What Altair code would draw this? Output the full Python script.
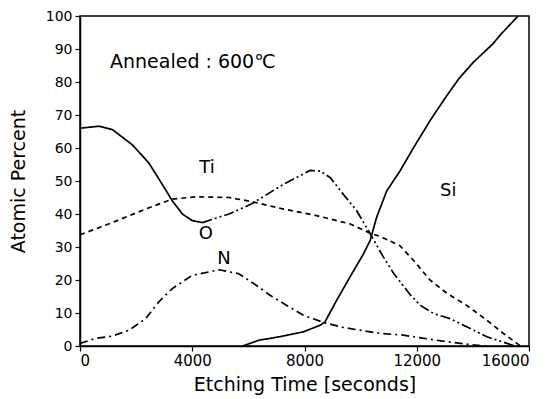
import altair as alt
import pandas as pd

# ---- data ----
ti_t = [0, 1150, 2340, 3290, 4120, 5310, 6100, 7250, 8430, 9620, 10340, 10700, 11400, 11880, 12470, 13070, 13780, 14500, 15090, 15570, 15700]
ti_v = [33.7, 37.4, 41.5, 44.5, 45.2, 45.0, 43.8, 41.5, 39.5, 37.0, 34.2, 33.2, 30.4, 26.0, 20.0, 16.0, 12.3, 7.8, 3.8, 0.8, 0.0]

o_t = [0, 680, 1150, 1860, 2450, 2930, 3290, 3650, 4000, 4360, 4720, 5310, 6100, 7250, 8200, 8560, 8920, 9380, 9860, 10340, 10810, 11180, 11780, 12130, 12610, 13190, 13780, 14500, 15210, 15500]
o_v = [66.0, 66.6, 65.6, 61.0, 55.5, 49.0, 44.0, 40.0, 38.0, 37.4, 38.4, 40.0, 43.0, 49.0, 53.2, 53.0, 51.0, 46.0, 41.0, 34.0, 27.0, 22.0, 15.4, 12.3, 9.8, 8.3, 5.8, 2.8, 0.8, 0.0]
o_solid_until = 4360

n_t = [0, 560, 1150, 1750, 2340, 2810, 3290, 4000, 4950, 5660, 6370, 6770, 7370, 7960, 8730, 9390, 10340, 10710, 11520, 11880, 13070, 14270, 14500]
n_v = [0.8, 2.3, 3.0, 4.8, 8.3, 13.4, 17.4, 21.4, 23.1, 21.9, 17.9, 15.4, 12.3, 9.3, 7.0, 5.6, 4.3, 3.8, 3.3, 2.8, 1.3, 0.1, 0.0]

si_t = [5800, 6390, 6770, 7110, 7960, 8560, 8730, 9150, 9620, 10100, 10340, 10570, 10930, 11400, 11880, 12490, 13000, 13500, 14020, 14730, 14970, 15610]
si_v = [0.0, 1.8, 2.3, 2.8, 4.3, 6.3, 7.3, 13.9, 20.9, 27.9, 32.0, 39.0, 47.0, 53.0, 60.0, 68.5, 75.0, 81.0, 86.0, 91.7, 94.2, 100.0]

label_text = ["Ti", "O", "N", "Si"]
label_t = [4526, 4480, 5130, 13125]
label_v = [54.0, 34.0, 26.4, 47.0]

note_text = ["Annealed : 600\u2103"]
note_t = [1069]
note_v = [86.0]

x_ticks = [0, 4000, 8000, 12000, 16000]
y_ticks = [0, 10, 20, 30, 40, 50, 60, 70, 80, 90, 100]

# ---- build table ----
rows = []
for t, v in zip(ti_t, ti_v):
    rows.append({"t": t, "v": v, "seg": "Ti", "style": "dashed"})
for t, v in zip(o_t, o_v):
    if t <= o_solid_until:
        rows.append({"t": t, "v": v, "seg": "O1", "style": "solid"})
    if t >= o_solid_until:
        rows.append({"t": t, "v": v, "seg": "O2", "style": "dashdotdot"})
for t, v in zip(n_t, n_v):
    rows.append({"t": t, "v": v, "seg": "N", "style": "dashdot"})
for t, v in zip(si_t, si_v):
    rows.append({"t": t, "v": v, "seg": "Si", "style": "solid"})
df = pd.DataFrame(rows)

labels = pd.DataFrame({"t": label_t, "v": label_v, "text": label_text})
note = pd.DataFrame({"t": note_t, "v": note_v, "text": note_text})

FONT = "DejaVu Sans"

x_scale = alt.Scale(domain=[0, 16000], nice=False, zero=False)
y_scale = alt.Scale(domain=[0, 100], nice=False)

x_axis = alt.Axis(values=x_ticks, format="d", title="Etching Time [seconds]",
                  grid=False, labelOverlap=False, labelFont=FONT, labelFontSize=15,
                  labelColor="black", tickColor="black", domainColor="black",
                  domainWidth=1.5, tickWidth=1.2, tickSize=5, labelPadding=2,
                  titleFont=FONT, titleFontSize=19, titleFontWeight="normal",
                  titleColor="black", titleY=38, titleBaseline="middle")
y_axis = alt.Axis(values=y_ticks, format="d", title="Atomic Percent",
                  grid=False, labelOverlap=False, labelFont=FONT, labelFontSize=14,
                  labelColor="black", tickColor="black", domainColor="black",
                  domainWidth=1.5, tickWidth=1.2, tickSize=5, labelPadding=3,
                  titleFont=FONT, titleFontSize=19, titleFontWeight="normal",
                  titleColor="black", titleX=-62, titleY=165, titleAngle=270,
                  titleAlign="center", titleBaseline="middle")

X = alt.X("t:Q", scale=x_scale, axis=x_axis)
Y = alt.Y("v:Q", scale=y_scale, axis=y_axis)

lines = alt.Chart(df).mark_line(strokeWidth=1.7, color="black").encode(
    x=X, y=Y,
    detail="seg:N",
    strokeDash=alt.StrokeDash("style:N", scale=alt.Scale(
        domain=["solid", "dashed", "dashdot", "dashdotdot"],
        range=[[1, 0], [5, 4], [8, 4, 2, 4], [10, 3, 2, 3, 2, 3]]), legend=None),
    order="t:Q",
)

text_labels = alt.Chart(labels).mark_text(font=FONT, fontSize=18, color="black").encode(
    x=X, y=Y, text="text:N")

note_mark = alt.Chart(note).mark_text(font=FONT, fontSize=19, color="black", align="left",
                                      baseline="middle").encode(
    x=X, y=Y, text="text:N")

chart = alt.layer(lines, text_labels, note_mark).properties(
    width=449, height=330,
    autosize=alt.AutoSizeParams(type="none"),
    padding={"left": 72, "top": 8, "right": 8, "bottom": 52},
    background="white",
).configure_view(stroke="black", strokeWidth=1.5)

chart.save("out.html", embed_options={"renderer": "svg", "actions": False})
